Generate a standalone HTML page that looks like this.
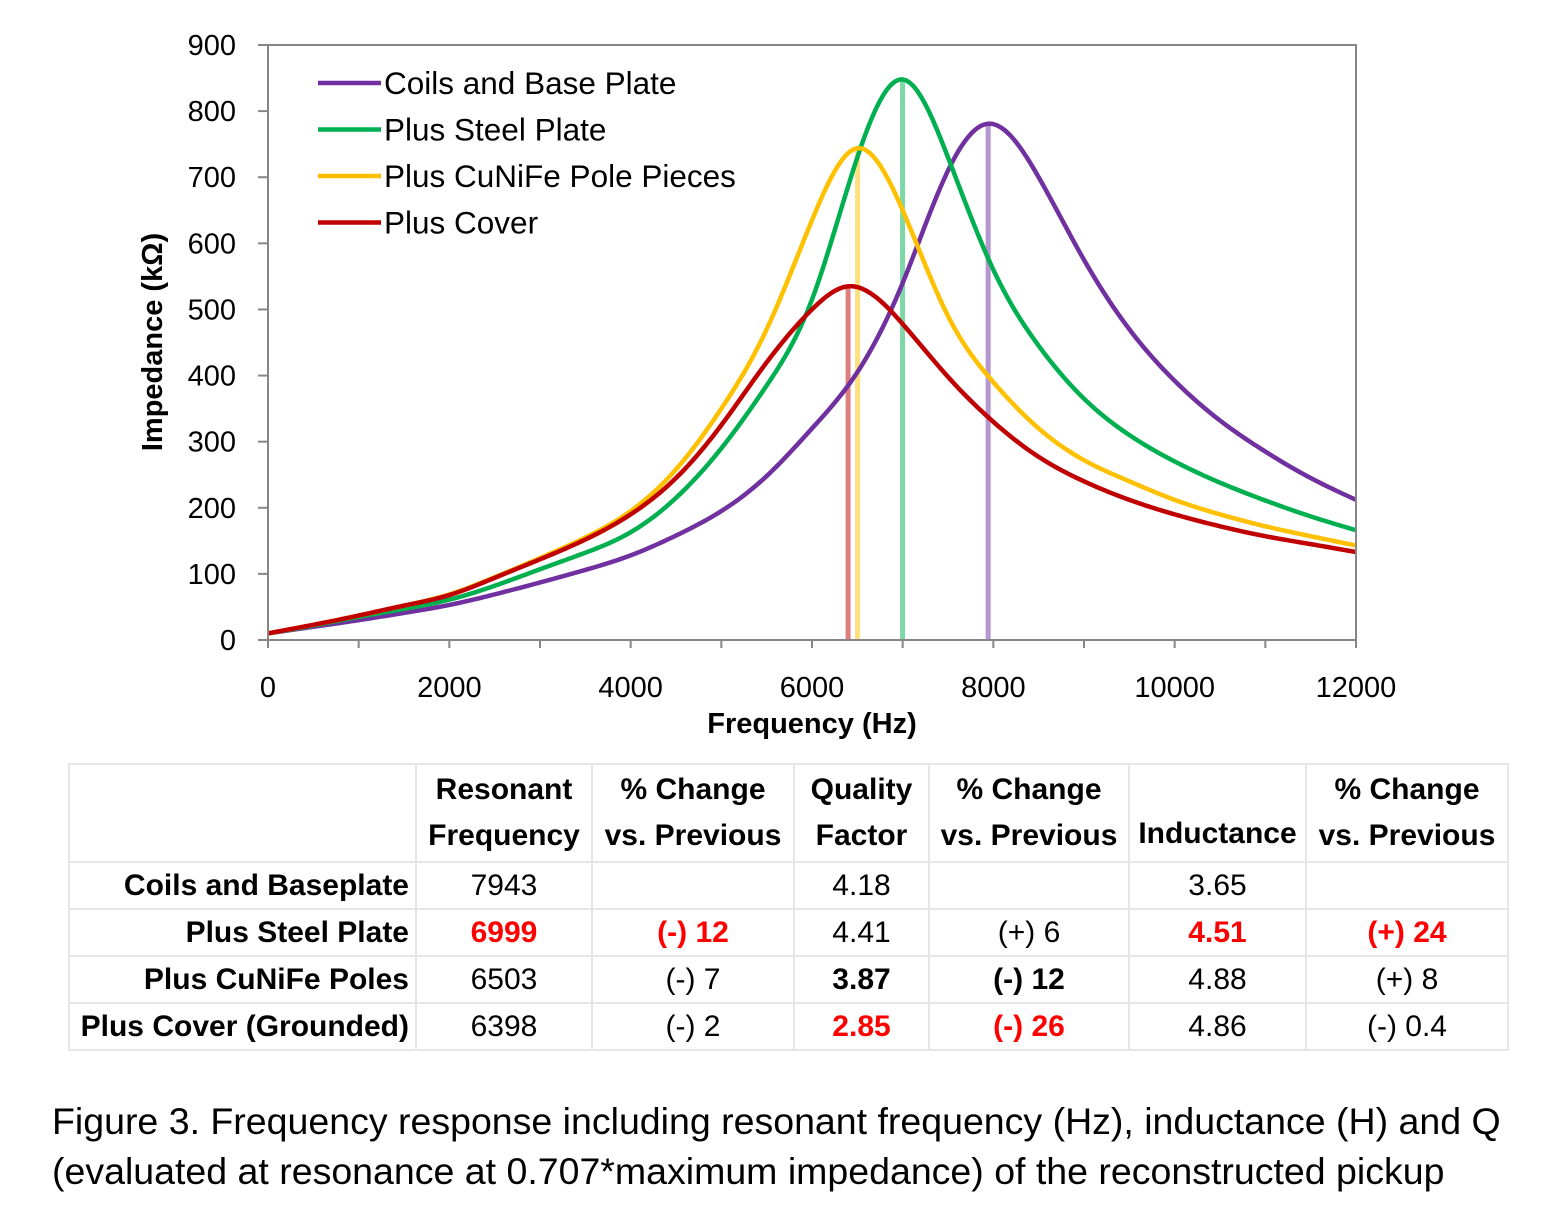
<!DOCTYPE html>
<html><head><meta charset="utf-8"><style>
body{margin:0;background:#fff;width:1555px;height:1230px;overflow:hidden;font-family:"Liberation Sans",sans-serif;}
svg text{font-family:"Liberation Sans",sans-serif;}
#tbl{position:absolute;left:68px;top:763px;border-collapse:collapse;font-size:30px;color:#000;}
#tbl td{border:2px solid #e6e6e6;padding:0;text-align:center;height:45px;}
.b{font-weight:bold}.r{color:#f00;font-weight:bold}
#cap{position:absolute;left:52px;top:1096px;font-size:37.5px;line-height:50px;color:#000;white-space:nowrap;}
</style></head><body>
<svg id="chart" width="1555" height="760" style="position:absolute;left:0;top:0">
<g id="grid"></g><g id="marks"></g><g id="axes"></g><g id="legend"></g>
</svg>
<table id="tbl">
<tr style="height:98px"><td style="width:345px"></td><td class="b" style="width:174px;line-height:46px">Resonant<br>Frequency</td><td class="b" style="width:200px;line-height:46px">% Change<br>vs. Previous</td><td class="b" style="width:133px;line-height:46px">Quality<br>Factor</td><td class="b" style="width:198px;line-height:46px">% Change<br>vs. Previous</td><td class="b" style="width:175px;line-height:46px;vertical-align:bottom;padding-bottom:4px">Inductance</td><td class="b" style="width:200px;line-height:46px">% Change<br>vs. Previous</td></tr>
<tr><td class="b" style="text-align:right;padding-right:6px">Coils and Baseplate</td><td>7943</td><td></td><td>4.18</td><td></td><td>3.65</td><td></td></tr>
<tr><td class="b" style="text-align:right;padding-right:6px">Plus Steel Plate</td><td class="r">6999</td><td class="r">(-) 12</td><td>4.41</td><td>(+) 6</td><td class="r">4.51</td><td class="r">(+) 24</td></tr>
<tr><td class="b" style="text-align:right;padding-right:6px">Plus CuNiFe Poles</td><td>6503</td><td>(-) 7</td><td class="b">3.87</td><td class="b">(-) 12</td><td>4.88</td><td>(+) 8</td></tr>
<tr><td class="b" style="text-align:right;padding-right:6px">Plus Cover (Grounded)</td><td>6398</td><td>(-) 2</td><td class="r">2.85</td><td class="r">(-) 26</td><td>4.86</td><td>(-) 0.4</td></tr>
</table>
<div id="cap">Figure 3. Frequency response including resonant frequency (Hz), inductance (H) and Q<br>(evaluated at resonance at 0.707*maximum impedance) of the reconstructed pickup</div>
<script>
const xTicks=[0,2000,4000,6000,8000,10000,12000];
const yTicks=[0,100,200,300,400,500,600,700,800,900];
const seriesNames=["Coils and Base Plate","Plus Steel Plate","Plus CuNiFe Pole Pieces","Plus Cover"];
const seriesColors=["#7030a0","#00b050","#ffc000","#c00000"];
const peakFreqs=[7943,6999,6503,6398];
const coilsF=[0,500,1000,1500,2000,2500,3000,3500,4000,4500,5000,5500,6000,6500,7000,7500,7943,8500,9000,9500,10000,10500,11000,11500,12000];
const coilsZ=[10,20,30,41,53,69,87,106,128,158,195,248,320,405,540,710,781,700,575,470,392,332,285,245,212];
const steelF=[0,500,1000,1500,2000,2500,3000,3500,4000,4500,5000,5500,6000,6500,6999,7500,8000,8500,9000,9500,10000,10500,11000,11500,12000];
const steelZ=[10,22,35,47,61,82,107,132,163,215,290,385,515,730,848,730,560,445,365,310,270,238,211,187,166];
const cunifeF=[0,500,1000,1500,2000,2500,3000,3500,4000,4500,5000,5500,6000,6503,7000,7500,8000,8500,9000,9500,10000,10500,11000,11500,12000];
const cunifeZ=[10,23,37,52,69,95,124,155,195,258,350,470,635,744,650,490,390,320,272,240,212,190,172,157,143];
const coverF=[0,500,1000,1500,2000,2500,3000,3500,4000,4500,5000,5500,6000,6398,7000,7500,8000,8500,9000,9500,10000,10500,11000,11500,12000];
const coverZ=[10,23,37,52,68,94,122,152,190,245,325,420,500,535,478,398,330,277,240,212,190,172,157,145,133];
const NS="http://www.w3.org/2000/svg";
const X=v=>268+v/12000*1088, Y=v=>640-v/900*595;
function mk(tag,attrs,parent,txt){const e=document.createElementNS(NS,tag);for(const k in attrs)e.setAttribute(k,attrs[k]);if(txt!==undefined)e.textContent=txt;parent.appendChild(e);return e;}
const axes=document.getElementById('axes'),marks=document.getElementById('marks'),leg=document.getElementById('legend');
let e=mk('rect',{x:268,y:45,width:1088,height:595,fill:'none',stroke:'#868686','stroke-width':2},axes);


for(let i=0;i<=12;i++){const x=X(i*1000);mk('line',{x1:x,x2:x,y1:640,y2:648,stroke:'#868686','stroke-width':2},axes);}
xTicks.forEach(t=>{e=mk('text',{x:X(t),y:697,'font-size':29,'text-anchor':'middle'},axes,t);

});
yTicks.forEach(t=>{mk('line',{x1:258,x2:268,y1:Y(t),y2:Y(t),stroke:'#868686','stroke-width':2},axes);
e=mk('text',{x:236,y:Y(t)+10,'font-size':29,'text-anchor':'end'},axes,t);

});
e=mk('text',{x:812,y:733,'font-size':29,'font-weight':'bold','text-anchor':'middle'},axes,'Frequency (Hz)');


e=mk('text',{x:0,y:0,'font-size':29,'font-weight':'bold','text-anchor':'middle',transform:'translate(162,342) rotate(-90)'},axes,'Impedance (kΩ)');


function path(F,Z){const n=F.length,x=F.map(X),y=Z.map(Y);
const h=[],al=[0],l=[1],mu=[0],z=[0],c=new Array(n).fill(0),b=[],d=[];
for(let i=0;i<n-1;i++)h.push(x[i+1]-x[i]);
for(let i=1;i<n-1;i++)al.push(3/h[i]*(y[i+1]-y[i])-3/h[i-1]*(y[i]-y[i-1]));
for(let i=1;i<n-1;i++){l[i]=2*(x[i+1]-x[i-1])-h[i-1]*mu[i-1];mu[i]=h[i]/l[i];z[i]=(al[i]-h[i-1]*z[i-1])/l[i];}
for(let j=n-2;j>=0;j--){c[j]=(j===0?0:z[j])-mu[j]*c[j+1];if(j===0)c[0]=0;b[j]=(y[j+1]-y[j])/h[j]-h[j]*(c[j+1]+2*c[j])/3;d[j]=(c[j+1]-c[j])/(3*h[j]);}
let s='M'+x[0]+','+y[0];
for(let j=0;j<n-1;j++){for(let k=1;k<=12;k++){const t=h[j]*k/12;s+=' L'+(x[j]+t).toFixed(2)+','+(y[j]+b[j]*t+c[j]*t*t+d[j]*t*t*t).toFixed(2);}}
return s;}
const data=[[coilsF,coilsZ],[steelF,steelZ],[cunifeF,cunifeZ],[coverF,coverZ]];
const keys=['coils','steel','cunife','cover'];
data.forEach((s,i)=>{const pk=Math.max(...s[1]);
e=mk('line',{x1:X(peakFreqs[i]),x2:X(peakFreqs[i]),y1:Y(0),y2:Y(pk),stroke:seriesColors[i],'stroke-width':5,opacity:0.5},marks);

});
data.forEach((s,i)=>{e=mk('path',{d:path(s[0],s[1]),fill:'none',stroke:seriesColors[i],'stroke-width':4.5,'stroke-linejoin':'round'},marks);

});
seriesNames.forEach((n,i)=>{const y=83+i*46.5;
mk('line',{x1:318,x2:381,y1:y,y2:y,stroke:seriesColors[i],'stroke-width':4.5},leg);
e=mk('text',{x:384,y:y+11,'font-size':31.5},leg,n);

});
</script>
</body></html>
